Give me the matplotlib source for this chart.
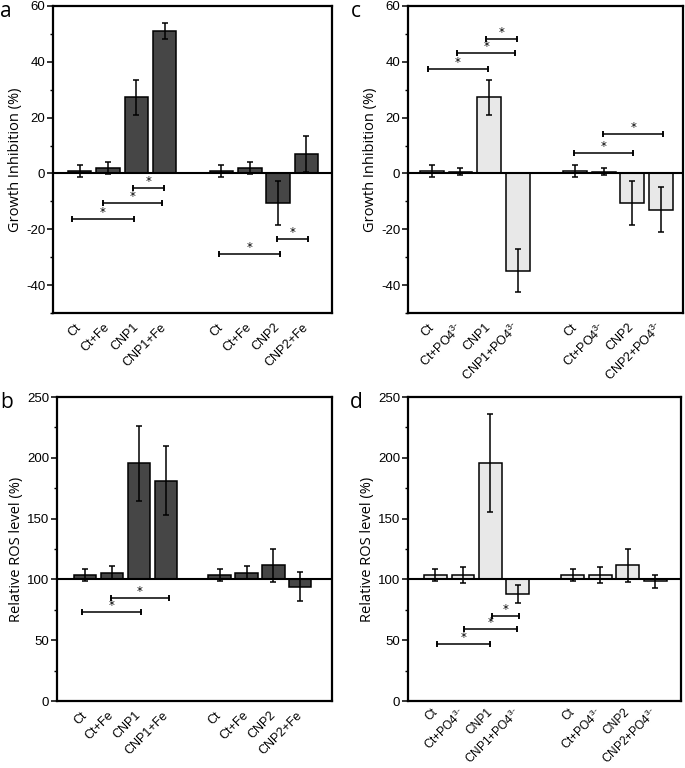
import numpy as np
import matplotlib
matplotlib.use("Agg")
import matplotlib.pyplot as plt
from matplotlib.ticker import MultipleLocator

plt.rcParams['font.family'] = ['Liberation Sans', 'DejaVu Sans']
plt.rcParams['mathtext.fontset'] = 'custom'
plt.rcParams['mathtext.rm'] = 'Liberation Sans'
plt.rcParams['mathtext.it'] = 'Liberation Sans'
plt.rcParams['axes.unicode_minus'] = False

# ---------------- data ----------------
fe_labels = ['Ct', 'Ct+Fe', 'CNP1', 'CNP1+Fe', 'Ct', 'Ct+Fe', 'CNP2', 'CNP2+Fe']
po4_labels = ['Ct', r'Ct+PO4$^{3\text{-}}$', 'CNP1', r'CNP1+PO4$^{3\text{-}}$',
              'Ct', r'Ct+PO4$^{3\text{-}}$', 'CNP2', r'CNP2+PO4$^{3\text{-}}$']

a_vals = [1.0, 2.0, 27.3, 51.0, 1.0, 2.0, -10.5, 7.0]
a_errs = [2.1, 2.1, 6.2, 2.8, 2.1, 2.1, 7.8, 6.4]

c_vals = [1.0, 0.7, 27.3, -34.8, 1.0, 0.7, -10.5, -13.0]
c_errs = [2.1, 1.3, 6.2, 7.6, 2.1, 1.3, 7.8, 8.1]

b_vals = [103.5, 105.5, 195.6, 181.2, 103.5, 105.5, 111.5, 94.0]
b_errs = [5.2, 5.2, 30.8, 28.3, 5.2, 5.2, 13.6, 11.8]

d_vals = [103.5, 103.5, 195.6, 88.0, 103.5, 103.5, 111.5, 98.5]
d_errs = [5.2, 6.3, 40.5, 7.5, 5.2, 6.3, 13.6, 5.2]

# significance brackets: (x_start, x_end, y)
a_sig = [(-0.26, 1.9, -16.4), (0.83, 2.9, -10.7), (1.89, 2.97, -5.3),
         (4.93, 7.05, -28.9), (6.96, 8.05, -23.4)]
c_sig = [(-0.13, 1.95, 37.6), (0.89, 2.92, 43.0), (1.91, 2.96, 48.0),
         (4.97, 7.04, 7.2), (5.99, 8.07, 14.0)]
b_sig = [(-0.12, 2.08, 73.4), (0.96, 3.1, 84.9)]
d_sig = [(0.04, 1.99, 46.7), (1.05, 2.97, 58.8), (2.07, 3.04, 70.3)]

positions = np.r_[0:4, 5:9]

DARK = '#464646'
LIGHT = '#e8e8e8'

fig = plt.figure(figsize=(6.85, 7.68), dpi=100)

def panel(rect, vals, errs, labels, color, base, ylim, major, minor,
          xlim, ylabel, sig, letter, letter_xy, xfs=9, xpad=9):
    ax = fig.add_axes(rect)
    heights = np.array(vals) - base
    ax.bar(positions, heights, bottom=base, width=0.83, color=color,
           edgecolor='black', linewidth=1.1, zorder=2)
    ax.errorbar(positions, vals, yerr=errs, fmt='none', ecolor='black',
                elinewidth=1.1, capsize=2.4, capthick=1.1, zorder=3)
    ax.axhline(base, color='black', lw=1.5, zorder=4)
    for x1, x2, y in sig:
        ax.plot([x1, x2], [y, y], color='black', lw=1.1, zorder=3)
        ax.plot([x1, x1], [y, y], marker='|', ms=4, mew=1.1, color='black')
        ax.plot([x2, x2], [y, y], marker='|', ms=4, mew=1.1, color='black')
        ax.text((x1 + x2) / 2, y, '*', ha='center', va='bottom',
                fontsize=8.5, family='DejaVu Sans')
    ax.set_xlim(*xlim)
    ax.set_ylim(*ylim)
    ax.yaxis.set_major_locator(MultipleLocator(major))
    ax.yaxis.set_minor_locator(MultipleLocator(minor))
    ax.tick_params(axis='y', which='major', length=4, width=1.1,
                   labelsize=9.5, pad=1.5, direction='out')
    ax.tick_params(axis='y', which='minor', length=2, width=1.0,
                   direction='out')
    ax.set_xticks(positions)
    ax.set_xticklabels(labels, rotation=45, ha='right', va='center',
                       rotation_mode='anchor', fontsize=xfs)
    ax.tick_params(axis='x', length=0, pad=xpad)
    for s in ax.spines.values():
        s.set_linewidth(1.6)
    ax.set_ylabel(ylabel, fontsize=10.5, labelpad=2, family='Open Sans')
    fig.text(letter_xy[0], letter_xy[1], letter, fontsize=15,
             family='Open Sans', ha='left', va='top')
    return ax

W, H = 685.0, 768.0
def rect(l, r, t, b):
    return [l / W, (H - b) / H, (r - l) / W, (b - t) / H]

panel(rect(53, 332, 6, 313), a_vals, a_errs, fe_labels, DARK, 0,
      (-50, 60), 20, 10, (-0.94, 8.9), 'Growth Inhibition (%)', a_sig,
      'a', (0 / W, 1 - 1 / H))
panel(rect(408, 683, 6, 313), c_vals, c_errs, po4_labels, LIGHT, 0,
      (-50, 60), 20, 10, (-0.83, 8.77), 'Growth Inhibition (%)', c_sig,
      'c', (351 / W, 1 - 1 / H))
panel(rect(57, 332, 397, 701), b_vals, b_errs, fe_labels, DARK, 100,
      (0, 250), 50, 25, (-1.05, 9.18), 'Relative ROS level (%)', b_sig,
      'b', (0 / W, 1 - 392 / H))
panel(rect(408, 681, 397, 701), d_vals, d_errs, po4_labels, LIGHT, 100,
      (0, 250), 50, 25, (-1.0, 8.94), 'Relative ROS level (%)', d_sig,
      'd', (350 / W, 1 - 392 / H), xfs=8.6, xpad=7)

fig.savefig('out.png', dpi=100, facecolor='white')
